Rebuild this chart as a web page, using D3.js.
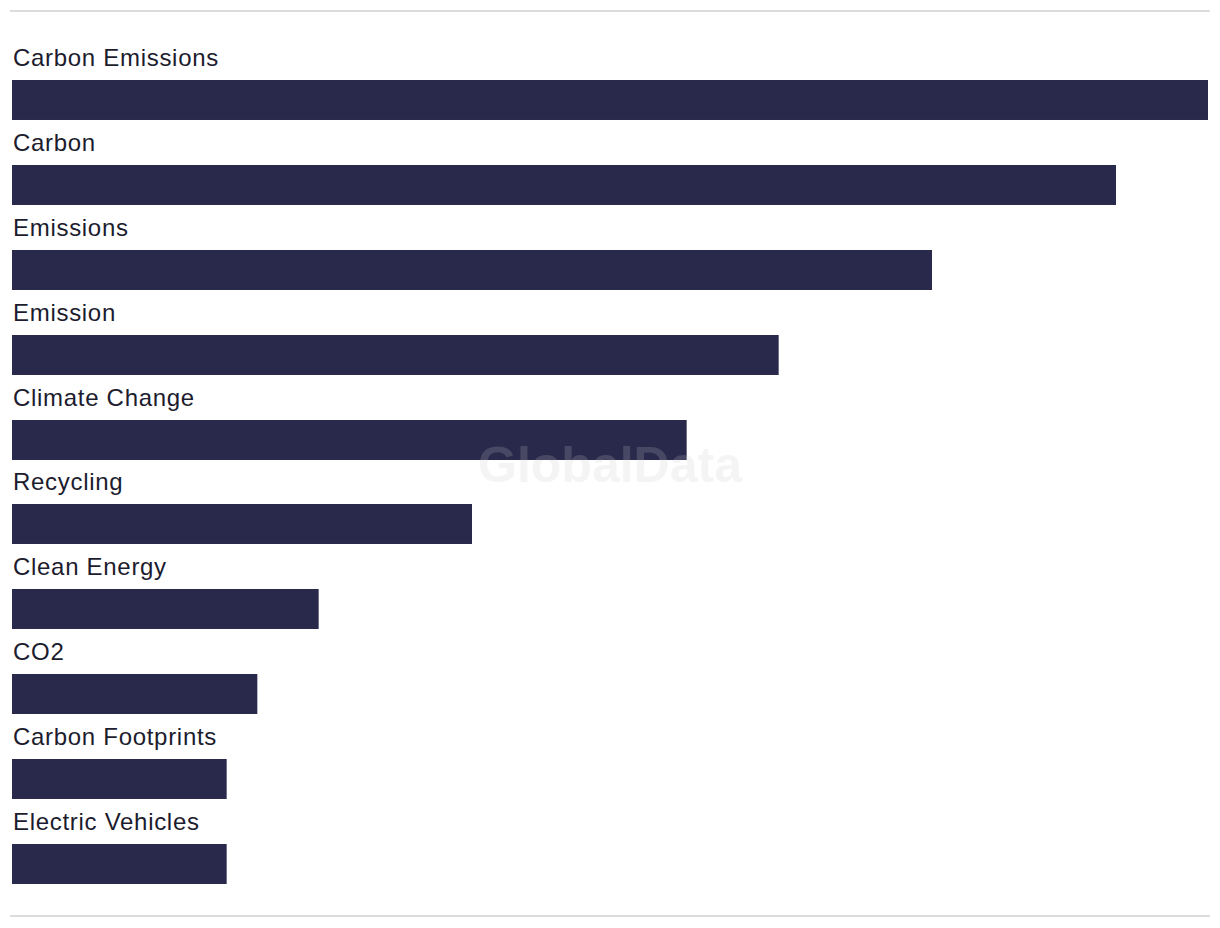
<!DOCTYPE html>
<html>
<head>
<meta charset="utf-8">
<script src="https://cdn.jsdelivr.net/npm/d3@7"></script>
<style>
  html, body { margin: 0; padding: 0; background: #fff; }
  svg { display: block; }
</style>
</head>
<body>
<svg id="chart" width="1220" height="928"></svg>
<script>
const categories = ["Carbon Emissions", "Carbon", "Emissions", "Emission", "Climate Change", "Recycling", "Clean Energy", "CO2", "Carbon Footprints", "Electric Vehicles"];
const values = [39, 36, 30, 25, 22, 15, 10, 8, 7, 7];

const svg = d3.select("#chart");

const x = d3.scaleLinear().domain([0, d3.max(values)]).range([12, 1208]);
const y = d3.scaleBand().domain(categories).range([80, 884]).paddingInner(0.529).paddingOuter(0);

// rules
svg.append("line").attr("x1", 10).attr("x2", 1210).attr("y1", 11).attr("y2", 11)
  .attr("stroke", "#dcdcdc").attr("stroke-width", 2);
svg.append("line").attr("x1", 10).attr("x2", 1210).attr("y1", 916).attr("y2", 916)
  .attr("stroke", "#dcdcdc").attr("stroke-width", 2);

const data = categories.map((c, i) => ({ c, v: values[i] }));

svg.selectAll("rect.bar").data(data).enter().append("rect")
  .attr("class", "bar")
  .attr("x", x(0))
  .attr("y", d => Math.round(y(d.c)))
  .attr("width", d => x(d.v) - x(0))
  .attr("height", y.bandwidth())
  .attr("fill", "#29294b");

svg.selectAll("text.lbl").data(data).enter().append("text")
  .attr("class", "lbl")
  .attr("x", 13)
  .attr("y", d => Math.round(y(d.c)) - 14)
  .attr("font-family", "'Liberation Sans', Arial, sans-serif")
  .attr("font-size", 24)
  .attr("letter-spacing", 0.7)
  .attr("fill", "#1c1c2e")
  .text(d => d.c);

// watermark
svg.append("text")
  .attr("x", 610).attr("y", 482)
  .attr("text-anchor", "middle")
  .attr("font-family", "'Liberation Sans', Arial, sans-serif")
  .attr("font-weight", "bold")
  .attr("font-size", 50)
  .attr("fill", "rgb(200,200,200)")
  .attr("fill-opacity", 0.2)
  .text("GlobalData");
</script>
</body>
</html>
